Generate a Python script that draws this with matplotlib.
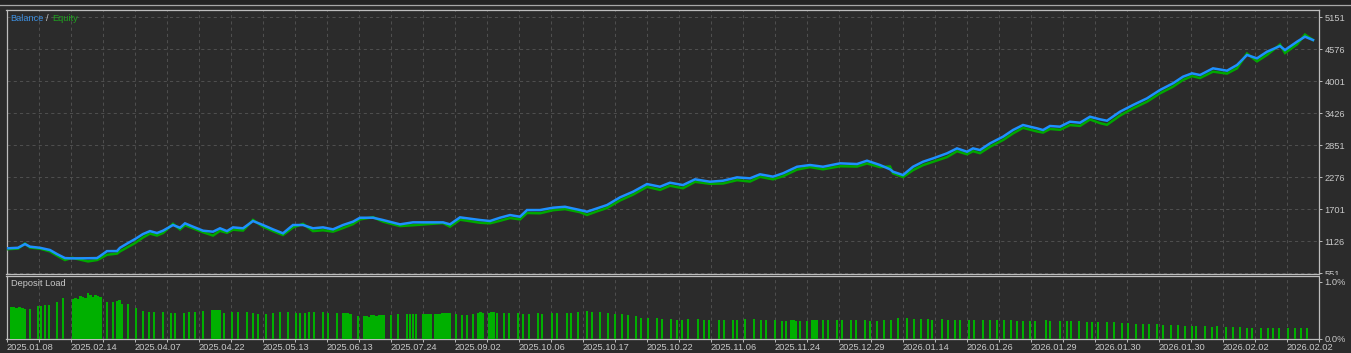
import matplotlib
matplotlib.use('Agg')
import matplotlib.pyplot as plt
from matplotlib.patches import Rectangle
from matplotlib.lines import Line2D

plt.rcParams['font.family'] = ['Liberation Sans', 'DejaVu Sans']

W, H, DPI = 1351, 353, 100
BG = '#2b2b2b'
GRID = '#4e4e4e'
BORDER = '#bdbdbd'
TXT = '#c8c8c8'
BLUE = '#1e90ff'
GREEN = '#00a800'
BAR = '#00b000'

# ---------------- data ----------------
deal_pos = [7, 18, 25, 30, 40, 50, 57, 65, 72, 88, 97, 100, 107, 117, 120, 128, 135, 143, 150, 157,
            163, 173, 180, 185, 193, 203, 213, 220, 227, 233, 243, 253, 263, 273, 283, 293, 303, 313,
            323, 333, 343, 353, 360, 373, 383, 400, 413, 443, 450, 460, 480, 490, 500, 510, 520, 527,
            540, 553, 565, 580, 587, 597, 607, 620, 633, 647, 660, 670, 683, 695, 710, 723, 737, 750,
            760, 773, 783, 797, 810, 823, 840, 857, 867, 880, 890, 893, 903, 913, 923, 933, 947, 957,
            967, 973, 980, 990, 1003, 1013, 1023, 1037, 1043, 1050, 1060, 1070, 1080, 1090, 1100, 1107,
            1120, 1133, 1147, 1160, 1173, 1183, 1192, 1200, 1213, 1227, 1237, 1247, 1257, 1267, 1280,
            1285, 1297, 1305, 1313]
balance = [1000, 1010, 1077, 1030, 1010, 970, 897, 825, 820, 822, 825, 860, 950, 951, 1010, 1095, 1166,
           1257, 1310, 1275, 1317, 1419, 1370, 1449, 1389, 1317, 1299, 1360, 1310, 1377, 1360, 1491,
           1419, 1341, 1270, 1419, 1419, 1360, 1377, 1341, 1419, 1479, 1550, 1550, 1509, 1431, 1467,
           1467, 1431, 1557, 1509, 1491, 1550, 1598, 1568, 1688, 1688, 1730, 1747, 1688, 1658, 1718,
           1778, 1916, 2017, 2155, 2107, 2179, 2137, 2240, 2197, 2215, 2275, 2258, 2330, 2288, 2348,
           2466, 2497, 2466, 2527, 2515, 2575, 2497, 2420, 2377, 2317, 2466, 2556, 2616, 2707, 2796,
           2736, 2796, 2766, 2886, 3006, 3126, 3216, 3156, 3126, 3198, 3186, 3275, 3257, 3365, 3318,
           3293, 3455, 3575, 3695, 3845, 3965, 4084, 4144, 4114, 4234, 4192, 4294, 4474, 4414, 4533,
           4635, 4563, 4713, 4803, 4743]
equity = [985, 995, 1085, 1015, 995, 945, 870, 790, 830, 765, 790, 815, 885, 905, 945, 1025, 1095,
          1195, 1265, 1230, 1275, 1440, 1340, 1415, 1360, 1290, 1230, 1315, 1280, 1335, 1320, 1510,
          1390, 1310, 1240, 1375, 1440, 1310, 1325, 1300, 1365, 1435, 1520, 1560, 1480, 1400, 1415,
          1455, 1390, 1515, 1460, 1450, 1495, 1545, 1520, 1635, 1630, 1685, 1705, 1650, 1600, 1665,
          1725, 1860, 1965, 2105, 2050, 2125, 2080, 2195, 2160, 2165, 2225, 2200, 2285, 2240, 2295,
          2415, 2460, 2420, 2475, 2470, 2525, 2460, 2470, 2350, 2280, 2405, 2495, 2555, 2640, 2745,
          2690, 2745, 2710, 2825, 2945, 3065, 3165, 3100, 3080, 3145, 3130, 3215, 3200, 3315, 3250,
          3220, 3385, 3515, 3635, 3785, 3905, 4025, 4095, 4060, 4175, 4140, 4235, 4500, 4360, 4475,
          4660, 4510, 4665, 4840, 4743]

bar_pos = [11, 13.5, 16.5, 19.5, 22.5, 25, 30, 38, 41, 45, 49, 57, 63, 73, 75.5, 78, 80.5, 83, 85.5,
           88, 90.5, 93, 95.5, 98, 100.5, 107, 113, 117, 119.5, 122, 128, 136, 143, 149, 154, 163, 171,
           175, 184, 189, 195, 203, 212, 214.5, 217, 219.5, 224, 232, 238, 247, 253, 258, 266, 273, 280,
           288, 296, 300, 305, 309, 314, 323, 328, 337,
           343, 345.5, 348, 350.5, 358, 364, 366.5, 369, 371.5, 374, 376.5, 379, 381.5, 384, 391, 398,
           407, 410, 413, 416, 423, 425.5, 428, 430.5, 435, 437.5, 440, 442.5, 445, 447.5, 450, 456,
           462, 467, 473, 478, 480.5, 483, 489, 491.5, 494, 497, 504, 509, 518, 523, 529, 538, 542, 552,
           557, 567, 571, 578, 587, 592, 600, 608, 615, 622, 628, 636, 641, 648, 657, 662, 671, 677, 682,
           688, 698, 704, 709, 719, 724,
           733, 737, 745, 754, 761, 766, 775, 782, 786, 791, 793.5, 796, 800, 807, 812, 814.5, 817, 823,
           828, 837, 842, 851, 856, 865, 870, 877, 884, 891, 898, 907, 914, 921, 928, 932, 942, 948, 955,
           960, 969, 974, 983, 990, 997, 1004, 1011, 1017, 1023, 1030, 1035, 1046, 1050, 1060, 1067,
           1071, 1079, 1087, 1092, 1098,
           1107, 1114, 1122, 1128, 1136, 1143, 1149, 1157, 1163, 1171, 1178, 1185, 1192, 1196, 1205,
           1212, 1217, 1226, 1233, 1240, 1247, 1252, 1261, 1268, 1273, 1279, 1288, 1295, 1301, 1307]
bar_load = [0.55, 0.55, 0.54, 0.55, 0.54, 0.53, 0.53, 0.57, 0.58, 0.59, 0.60, 0.65, 0.71, 0.70, 0.71,
            0.70, 0.75, 0.74, 0.72, 0.80, 0.77, 0.74, 0.77, 0.75, 0.74, 0.65, 0.65, 0.67, 0.68, 0.61,
            0.61, 0.54, 0.49, 0.48, 0.48, 0.48, 0.45, 0.45, 0.45, 0.47, 0.47, 0.49, 0.50, 0.51, 0.50,
            0.50, 0.45, 0.47, 0.47, 0.48, 0.45, 0.43, 0.44, 0.45, 0.47, 0.48, 0.46, 0.45, 0.45, 0.47,
            0.47, 0.47, 0.45, 0.45,
            0.46, 0.46, 0.46, 0.44, 0.40, 0.40, 0.40, 0.39, 0.42, 0.42, 0.41, 0.42, 0.42, 0.42, 0.42,
            0.44, 0.44, 0.44, 0.44, 0.44, 0.44, 0.44, 0.43, 0.44, 0.44, 0.44, 0.44, 0.45, 0.46, 0.46,
            0.46, 0.44, 0.42, 0.42, 0.44, 0.46, 0.47, 0.46, 0.46, 0.47, 0.47, 0.46, 0.46, 0.46, 0.46,
            0.44, 0.44, 0.46, 0.44, 0.46, 0.46, 0.46, 0.46, 0.47, 0.49, 0.47, 0.47, 0.46, 0.44, 0.44,
            0.42, 0.40, 0.37, 0.37, 0.37, 0.35, 0.35, 0.34, 0.34, 0.35, 0.35, 0.34, 0.34, 0.34, 0.34,
            0.33, 0.34, 0.345, 0.345, 0.33, 0.33, 0.33, 0.31, 0.31, 0.33, 0.33, 0.31, 0.31, 0.31, 0.33,
            0.33, 0.33, 0.33, 0.33, 0.33, 0.33, 0.33, 0.33, 0.33, 0.31, 0.31, 0.33, 0.33, 0.37, 0.37,
            0.345, 0.345, 0.345, 0.33, 0.345, 0.33, 0.33, 0.33, 0.33, 0.33, 0.33, 0.33, 0.33, 0.33,
            0.33, 0.31, 0.31, 0.31, 0.31, 0.33, 0.31, 0.31, 0.31, 0.31, 0.31, 0.30, 0.30, 0.29,
            0.30, 0.29, 0.28, 0.28, 0.26, 0.26, 0.26, 0.26, 0.25, 0.25, 0.25, 0.23, 0.23, 0.23, 0.23,
            0.205, 0.23, 0.205, 0.205, 0.205, 0.19, 0.19, 0.19, 0.19, 0.19, 0.19, 0.19, 0.19, 0.19, 0.19]

date_labels = ['2025.01.08', '2025.02.14', '2025.04.07', '2025.04.22', '2025.05.13', '2025.06.13',
               '2025.07.24', '2025.09.02', '2025.10.06', '2025.10.17', '2025.10.22', '2025.11.06',
               '2025.11.24', '2025.12.29', '2026.01.14', '2026.01.26', '2026.01.29', '2026.01.30',
               '2026.01.30', '2026.02.02', '2026.02.02']
balance_ticks = [551, 1126, 1701, 2276, 2851, 3426, 4001, 4576, 5151]
load_ticks = [0.0, 1.0]
load_labels = ['0.0%', '1.0%']

X_START, X_END, X_STEP = 7, 1319, 32

# ---------------- figure ----------------
fig = plt.figure(figsize=(W / DPI, H / DPI), dpi=DPI, facecolor=BG)


def px_rect(x0, y0, x1, y1):
    return [x0 / W, 1 - y1 / H, (x1 - x0) / W, (y1 - y0) / H]


ax = fig.add_axes(px_rect(6.5, 10.3, 1319, 273.5))
axl = fig.add_axes(px_rect(6.5, 275.7, 1319, 339))

grid_x = list(range(X_START, X_END + 1, X_STEP))
FS = 6.7

for a in (ax, axl):
    a.set_facecolor(BG)
    for s in a.spines.values():
        s.set_color(BORDER)
        s.set_linewidth(0.9)
    a.set_xlim(X_START - 0.5, X_END)
    a.yaxis.tick_right()
    a.tick_params(axis='y', direction='out', length=2.2, width=0.7, colors=BORDER,
                  labelcolor=TXT, labelsize=FS, pad=1.6)
    a.set_xticks(grid_x)
    a.grid(axis='x', color=GRID, linestyle=(0, (3, 3)), linewidth=0.75)
    a.set_axisbelow(True)

# main panel
ax.set_ylim(548, 5277)
ax.set_yticks(balance_ticks)
ax.set_yticklabels([str(v) for v in balance_ticks])
ax.grid(axis='y', color=GRID, linestyle=(0, (3, 3)), linewidth=0.75)
ax.tick_params(axis='x', length=0, labelbottom=False)

ax.plot(deal_pos, equity, color=GREEN, lw=1.8, solid_joinstyle='miter', zorder=3)
ax.plot(deal_pos, balance, color=BLUE, lw=1.8, solid_joinstyle='miter', zorder=4)

t1 = ax.annotate('Balance', xy=(0, 1), xycoords='axes fraction', xytext=(2.5, -6.0),
                 textcoords='offset points', va='center', ha='left', color='#3d8fe0', fontsize=FS)
t2 = ax.annotate('/', xy=(1, 0.5), xycoords=t1, xytext=(1.6, 0), textcoords='offset points',
                 va='center', ha='left', color=TXT, fontsize=FS)
ax.annotate('Equity', xy=(1, 0.5), xycoords=t2, xytext=(2.6, 0), textcoords='offset points',
            va='center', ha='left', color='#1fa01f', fontsize=FS)

# deposit load panel
axl.bar(bar_pos, bar_load, width=2.4, color=BAR, linewidth=0, zorder=3)
axl.set_ylim(0, 1.105)
axl.set_yticks(load_ticks)
axl.set_yticklabels(load_labels)
xlabels = []
for i in range(len(grid_x)):
    xlabels.append(date_labels[i // 2] if i % 2 == 0 and i // 2 < len(date_labels) else '')
axl.set_xticklabels(xlabels)
axl.tick_params(axis='x', direction='out', length=2.5, width=0.7, colors=BORDER,
                labelcolor=TXT, labelsize=FS, pad=0.4)
for lab in axl.get_xticklabels():
    lab.set_ha('left')
axl.annotate('Deposit Load', xy=(0, 1), xycoords='axes fraction', xytext=(3.0, -5.5),
             textcoords='offset points', va='center', ha='left', color=TXT, fontsize=FS)

# top strip and separator
fig.patches.append(Rectangle((0, 1 - 4.8 / H), 1, 4.8 / H, transform=fig.transFigure,
                             facecolor='#232323', edgecolor='none', zorder=5))
fig.lines.append(Line2D([0, 1], [1 - 5.3 / H, 1 - 5.3 / H], transform=fig.transFigure,
                        color='#a8a8a8', lw=0.9, zorder=6))
# mask under the lowest balance label (cut by deposit panel)
fig.patches.append(Rectangle((1320 / W, 1 - 277.6 / H), 31 / W, 2.8 / H, transform=fig.transFigure,
                             facecolor=BG, edgecolor='none', zorder=5))

fig.savefig('out.png', dpi=DPI, facecolor=BG)
